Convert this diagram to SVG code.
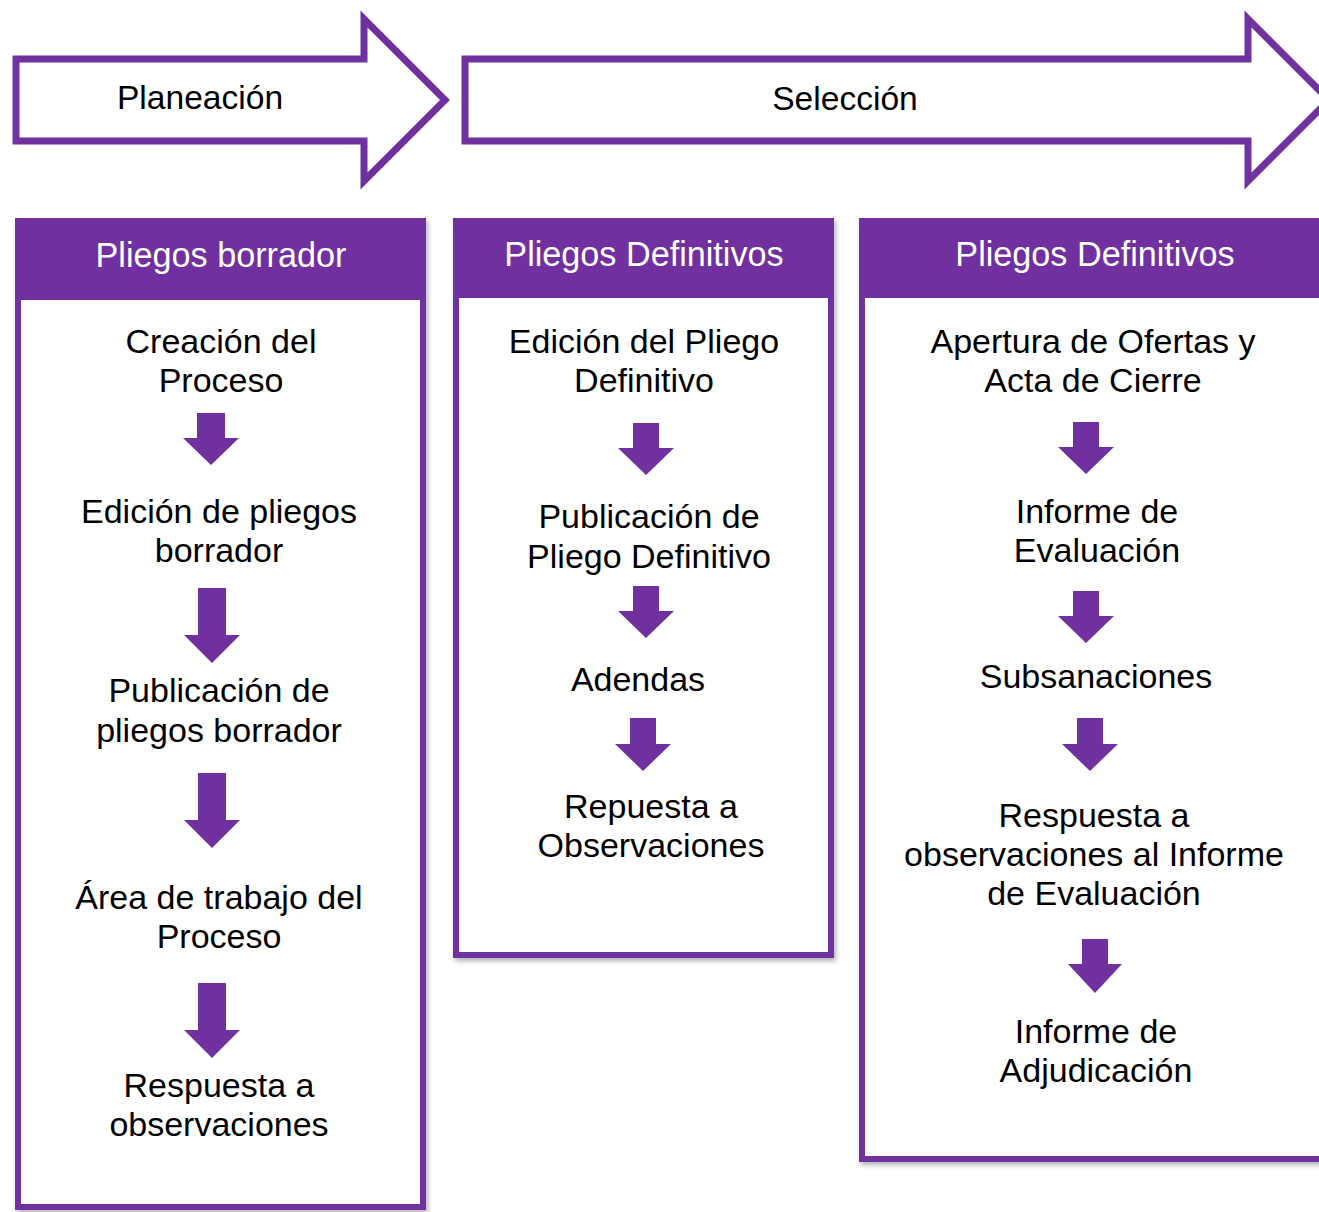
<svg xmlns="http://www.w3.org/2000/svg" width="1319" height="1212" viewBox="0 0 1319 1212">
  <style>
    .phase { fill: #ffffff; stroke: #7030A0; stroke-width: 7; stroke-linejoin: miter; stroke-miterlimit: 10; }
    .box { fill: #ffffff; stroke: #7030A0; stroke-width: 6; }
    .hdr { fill: #7030A0; }
    .t { font-family: "Liberation Sans", Arial, sans-serif; font-size: 34px; fill: #000000; text-anchor: middle; }
    .pt { font-family: "Liberation Sans", Arial, sans-serif; font-size: 33.6px; fill: #000000; text-anchor: middle; }
    .ht { font-family: "Liberation Sans", Arial, sans-serif; font-size: 34.2px; fill: #ffffff; text-anchor: middle; }
    .dn { fill: #7030A0; }
  </style>
  <defs>
    <filter id="sh" x="-5%" y="-5%" width="115%" height="115%">
      <feDropShadow dx="2" dy="3" stdDeviation="2.5" flood-color="#000000" flood-opacity="0.3"/>
    </filter>
  </defs>
  <rect width="1319" height="1212" fill="#ffffff"/>

  <g id="phase-planeacion">
    <path class="phase" d="M16,59 H364 V19 L445,100 L364,181 V141 H16 Z"/>
    <text class="pt" x="200" y="109">Planeación</text>
  </g>
  <g id="phase-seleccion">
    <path class="phase" d="M465,59 H1248 V19 L1329,100 L1248,181 V141 H465 Z"/>
    <text class="pt" x="845" y="110">Selección</text>
  </g>

  <g id="col-borrador">
    <rect class="box" x="18" y="221" width="405" height="986" filter="url(#sh)"/>
    <rect class="hdr" x="15" y="218" width="411" height="82"/>
    <text class="ht" x="221" y="267">Pliegos borrador</text>
  </g>
  <g id="col-definitivos-1">
    <rect class="box" x="456" y="221" width="375" height="734" filter="url(#sh)"/>
    <rect class="hdr" x="453" y="218" width="381" height="80"/>
    <text class="ht" x="644" y="266">Pliegos Definitivos</text>
  </g>
  <g id="col-definitivos-2">
    <rect class="box" x="862" y="221" width="500" height="938" filter="url(#sh)"/>
    <rect class="hdr" x="859" y="218" width="470" height="80"/>
    <text class="ht" x="1095" y="266">Pliegos Definitivos</text>
  </g>

  <g id="n-creacion"><text class="t" x="221" y="353">Creación del</text><text class="t" x="221" y="392">Proceso</text></g>
  <g id="n-edicion-borrador"><text class="t" x="219" y="523">Edición de pliegos</text><text class="t" x="219" y="562">borrador</text></g>
  <g id="n-publicacion-borrador"><text class="t" x="219" y="702">Publicación de</text><text class="t" x="219" y="742">pliegos borrador</text></g>
  <g id="n-area"><text class="t" x="219" y="909">Área de trabajo del</text><text class="t" x="219" y="948">Proceso</text></g>
  <g id="n-respuesta-borrador"><text class="t" x="219" y="1097">Respuesta a</text><text class="t" x="219" y="1136">observaciones</text></g>

  <g id="n-edicion-definitivo"><text class="t" x="644" y="353">Edición del Pliego</text><text class="t" x="644" y="392">Definitivo</text></g>
  <g id="n-publicacion-definitivo"><text class="t" x="649" y="528">Publicación de</text><text class="t" x="649" y="568">Pliego Definitivo</text></g>
  <g id="n-adendas"><text class="t" x="638" y="691">Adendas</text></g>
  <g id="n-repuesta"><text class="t" x="651" y="818">Repuesta a</text><text class="t" x="651" y="857">Observaciones</text></g>

  <g id="n-apertura"><text class="t" x="1093" y="353">Apertura de Ofertas y</text><text class="t" x="1093" y="392">Acta de Cierre</text></g>
  <g id="n-informe-evaluacion"><text class="t" x="1097" y="523">Informe de</text><text class="t" x="1097" y="562">Evaluación</text></g>
  <g id="n-subsanaciones"><text class="t" x="1096" y="688">Subsanaciones</text></g>
  <g id="n-respuesta-informe"><text class="t" x="1094" y="827">Respuesta a</text><text class="t" x="1094" y="866">observaciones al Informe</text><text class="t" x="1094" y="905">de Evaluación</text></g>
  <g id="n-adjudicacion"><text class="t" x="1096" y="1043">Informe de</text><text class="t" x="1096" y="1082">Adjudicación</text></g>

  <g id="connectors">
    <path class="dn" d="M197,413 H225 V438 H239 L211,465 L183,438 H197 Z"/>
    <path class="dn" d="M198,588 H226 V635 H240 L212,663 L184,635 H198 Z"/>
    <path class="dn" d="M198,773 H226 V820 H240 L212,848 L184,820 H198 Z"/>
    <path class="dn" d="M198,983 H226 V1030 H240 L212,1058 L184,1030 H198 Z"/>

    <path class="dn" d="M633,423 H659 V448 H674 L646,475 L618,448 H633 Z"/>
    <path class="dn" d="M633,586 H659 V611 H674 L646,638 L618,611 H633 Z"/>
    <path class="dn" d="M630,718 H656 V744 H671 L643,771 L615,744 H630 Z"/>

    <path class="dn" d="M1073,422 H1099 V447 H1114 L1086,474 L1058,447 H1073 Z"/>
    <path class="dn" d="M1073,591 H1099 V616 H1114 L1086,643 L1058,616 H1073 Z"/>
    <path class="dn" d="M1077,718 H1103 V744 H1118 L1090,771 L1062,744 H1077 Z"/>
    <path class="dn" d="M1082,939 H1108 V964 H1122 L1095,993 L1068,964 H1082 Z"/>
  </g>
</svg>
